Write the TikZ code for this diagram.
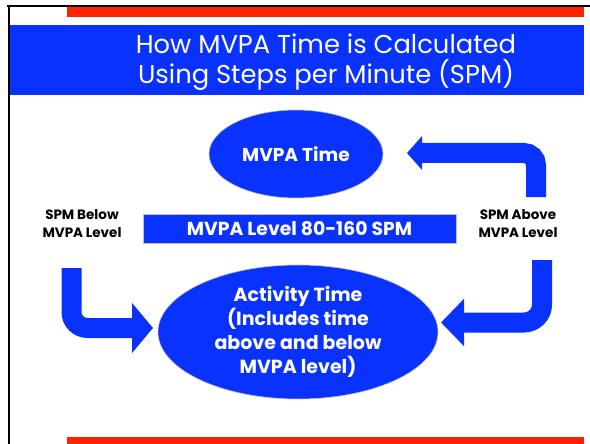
\documentclass[tikz,border=0pt]{standalone}
\usepackage{fontspec}
\setmainfont{Poppins}
\usetikzlibrary{shapes.geometric,arrows.meta}
\definecolor{slideblue}{RGB}{10,50,255}
\definecolor{slidered}{RGB}{255,34,0}
\begin{document}
\begin{tikzpicture}[x=1pt,y=-1pt,
  bluefill/.style={fill=slideblue, draw=black!25, line width=0.6pt},
  ellnode/.style={ellipse, bluefill, inner sep=0pt, text=white, align=center},
  sidelabel/.style={align=center, font=\bfseries\fontsize{13.5}{18}\selectfont, text=black},
  bigarrow/.style={draw=slideblue, line width=20pt, rounded corners=#1}]
\useasboundingbox (0,0) rectangle (590,444);
\fill[white] (0,0) rectangle (590,444);
% frame lines
\fill[black] (7,5) rectangle (590,7);
\fill[black] (8,5) rectangle (10,444);
% red bars
\fill[slidered] (67,7) rectangle (584,17);
\fill[slidered] (67,437) rectangle (584,444);
% title bar
\fill[slideblue] (10,25) rectangle (584,95);
\node[anchor=base, text=white, font=\fontsize{25.8}{30}\selectfont, inner sep=0pt] (title1) at (326,54) {How MVPA Time is Calculated};
\node[anchor=base, text=white, font=\fontsize{25.8}{30}\selectfont, inner sep=0pt] (title2) at (326,84) {Using Steps per Minute (SPM)};
% nodes
\node[ellnode, minimum width=174pt, minimum height=88pt, font=\bfseries\fontsize{18.6}{23}\selectfont] (mvpa) at (296,154) {MVPA Time};
\node[rectangle, bluefill, minimum width=313pt, minimum height=29pt, inner sep=0pt, text=white, font=\bfseries\fontsize{18.8}{22}\selectfont] (level) at (299.5,228.5) {MVPA Level 80-160 SPM};
\node[ellnode, minimum width=280pt, minimum height=134pt, font=\bfseries\fontsize{19}{24}\selectfont] (activity) at (298,332) {Activity Time\\(Includes time\\above and below\\MVPA level)};
\node[sidelabel] (below) at (82,224) {SPM Below\\MVPA Level};
\node[sidelabel] (above) at (518,224) {SPM Above\\MVPA Level};
% arrow end points
\coordinate (trs) at (536,197);
\coordinate (tre) at (407,153);
\coordinate (brs) at (542,260);
\coordinate (bre) at (441,322.5);
\coordinate (ls) at (71.5,268);
\coordinate (le) at (153,328);
% arrows
\draw[bigarrow=12pt, -{Triangle[length=15pt,width=33pt]}] (trs) |- (tre);
\draw[bigarrow=18pt, -{Triangle[length=23pt,width=46pt]}] (brs) |- (bre);
\draw[bigarrow=16pt, -{Triangle[length=21pt,width=49pt]}] (ls) |- (le);
\end{tikzpicture}
\end{document}
